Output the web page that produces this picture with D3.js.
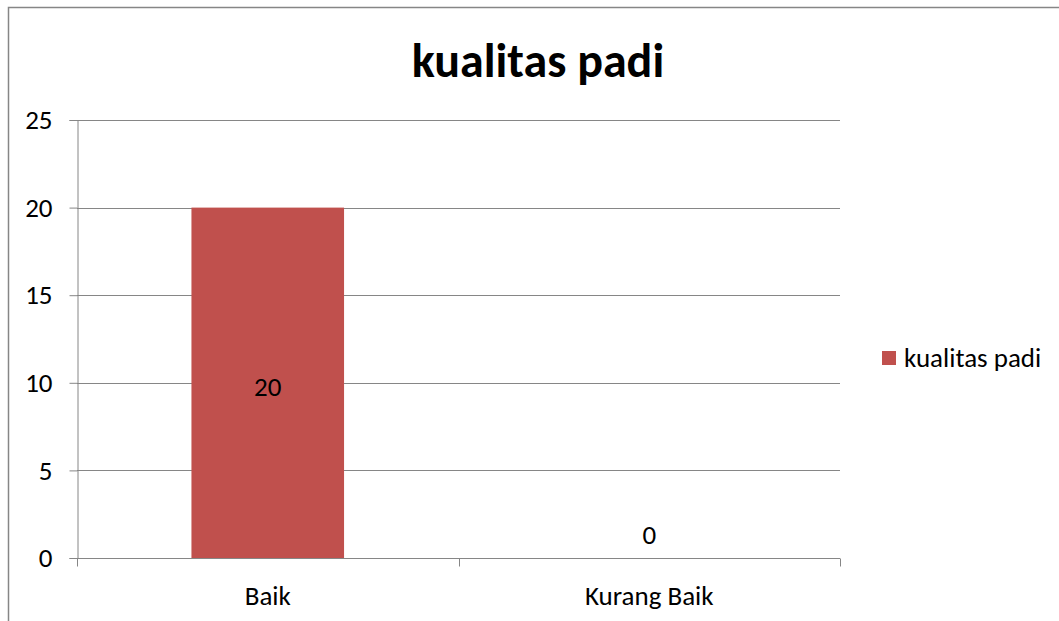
<!DOCTYPE html>
<html>
<head>
<meta charset="utf-8">
<script src="https://cdn.jsdelivr.net/npm/d3@7"></script>
<style>
  html, body { margin: 0; padding: 0; background: #fff; }
  svg { display: block; font-family: Carlito, Lato, "Open Sans", sans-serif; }
</style>
</head>
<body>
<svg id="chart" width="1059" height="621"></svg>
<script>
// Chart data
const categories = ["Baik", "Kurang Baik"];
const values = [20, 0];
const seriesName = "kualitas padi";
const yTicks = [0, 5, 10, 15, 20, 25];
const chartTitle = "kualitas padi";

const svg = d3.select("#chart");
const W = 1059, H = 621;
const plot = { left: 77, right: 840, top: 120, bottom: 558 };
const gridColor = "#868686";
const barColor = "#C0504D";
const fontSize = 27;

// Outer chart frame (runs off the right and bottom edges)
svg.append("path")
  .attr("d", `M8.5,${H + 2} L8.5,7.5 L${W + 2},7.5`)
  .attr("fill", "none")
  .attr("stroke", "#868686")
  .attr("stroke-width", 1.5);

const x = d3.scaleBand()
  .domain(categories)
  .range([plot.left, plot.right])
  .paddingInner(0)
  .paddingOuter(0);

const y = d3.scaleLinear()
  .domain([0, 25])
  .range([plot.bottom, plot.top]);

// Horizontal gridlines
svg.append("g")
  .selectAll("line")
  .data(yTicks.filter(t => t > 0))
  .join("line")
  .attr("x1", plot.left)
  .attr("x2", plot.right)
  .attr("y1", d => Math.round(y(d)) + 0.5)
  .attr("y2", d => Math.round(y(d)) + 0.5)
  .attr("stroke", gridColor)
  .attr("stroke-width", 1);

// Bars
const barW = x.bandwidth() * 0.4;
svg.append("g")
  .selectAll("rect")
  .data(categories.map((c, i) => ({ c, v: values[i] })))
  .join("rect")
  .attr("x", d => x(d.c) + (x.bandwidth() - barW) / 2)
  .attr("y", d => y(d.v))
  .attr("width", barW)
  .attr("height", d => y(0) - y(d.v))
  .attr("fill", barColor);

// Y axis
const yAxis = d3.axisLeft(y)
  .tickValues(yTicks)
  .tickSize(8)
  .tickPadding(17)
  .tickFormat(d3.format("d"));
const gy = svg.append("g")
  .attr("transform", `translate(${plot.left + 0.5},0)`)
  .call(yAxis);
gy.select(".domain").attr("stroke", gridColor);
gy.selectAll(".tick line").attr("stroke", gridColor);
gy.selectAll(".tick text")
  .attr("font-size", fontSize)
  .attr("fill", "#000")
  .attr("font-family", "Carlito, Lato, 'Open Sans', sans-serif");

// X axis: ticks at category boundaries
const gx = svg.append("g")
  .attr("transform", `translate(0,${plot.bottom + 0.5})`);
gx.append("line")
  .attr("x1", plot.left).attr("x2", plot.right)
  .attr("stroke", gridColor);
const boundaries = categories.map(c => x(c)).concat([plot.right]);
gx.selectAll("line.tick")
  .data(boundaries)
  .join("line")
  .attr("class", "tick")
  .attr("x1", d => Math.round(d) + 0.5)
  .attr("x2", d => Math.round(d) + 0.5)
  .attr("y1", 0)
  .attr("y2", 8)
  .attr("stroke", gridColor);
gx.selectAll("text")
  .data(categories)
  .join("text")
  .attr("x", d => x(d) + x.bandwidth() / 2)
  .attr("y", 46)
  .attr("text-anchor", "middle")
  .attr("font-size", fontSize)
  .attr("fill", "#000")
  .text(d => d);

// Data labels
svg.append("g")
  .selectAll("text")
  .data(categories.map((c, i) => ({ c, v: values[i] })))
  .join("text")
  .attr("x", d => x(d.c) + x.bandwidth() / 2)
  .attr("y", d => d.v > 0 ? (y(d.v) + y(0)) / 2 + 13 : y(0) - 14)
  .attr("text-anchor", "middle")
  .attr("font-size", fontSize)
  .attr("fill", "#000")
  .text(d => d.v);

// Title
svg.append("text")
  .attr("x", 538)
  .attr("y", 77)
  .attr("text-anchor", "middle")
  .attr("font-size", 48)
  .attr("font-weight", "bold")
  .attr("fill", "#000")
  .text(chartTitle);

// Legend
const lg = svg.append("g").attr("transform", "translate(882,351)");
lg.append("rect")
  .attr("width", 14).attr("height", 14)
  .attr("fill", barColor);
lg.append("text")
  .attr("x", 22).attr("y", 16)
  .attr("font-size", fontSize)
  .attr("fill", "#000")
  .text(seriesName);
</script>
</body>
</html>
